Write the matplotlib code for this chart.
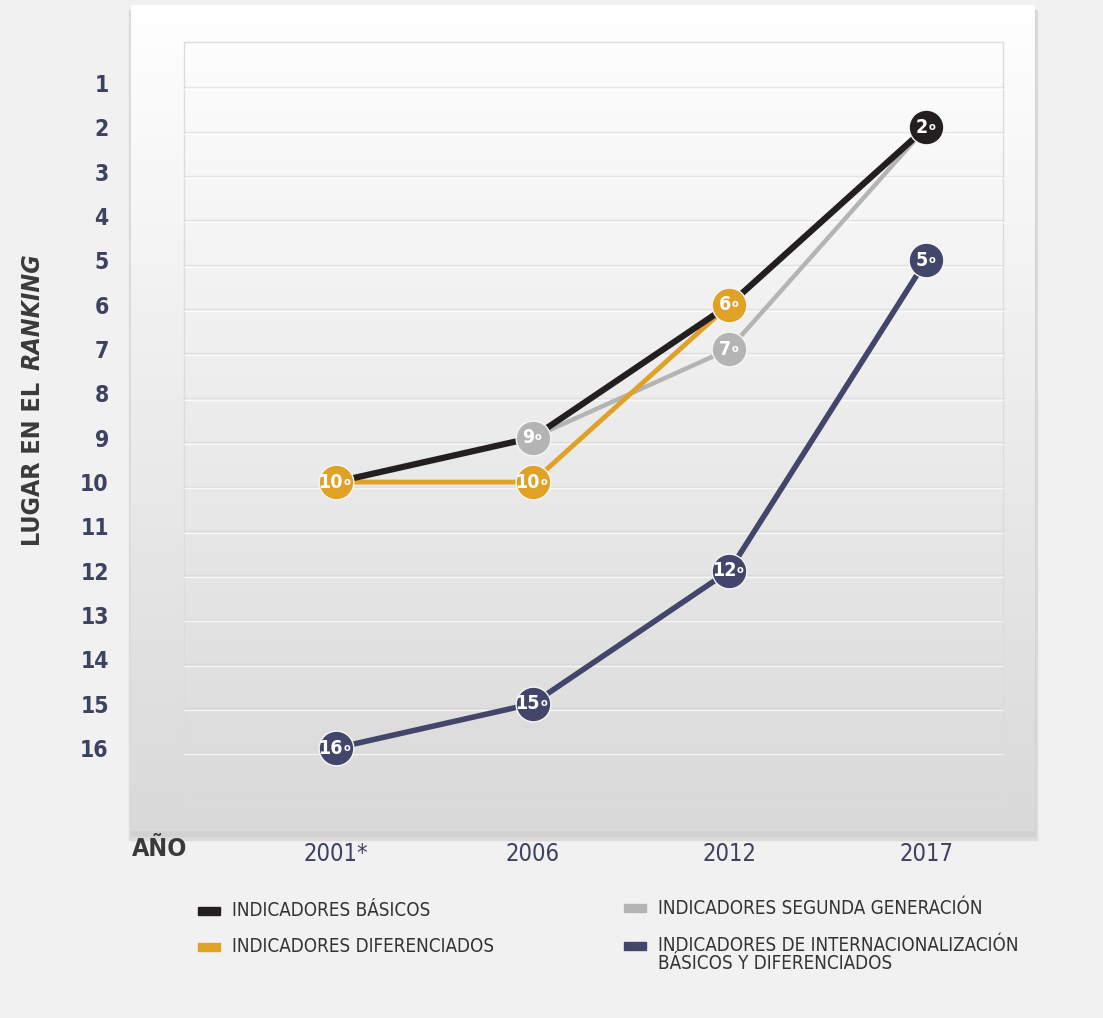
import numpy as np
import matplotlib
matplotlib.use("Agg")
from matplotlib import pyplot as plt
from matplotlib.colors import LinearSegmentedColormap
from matplotlib.patches import Rectangle

plt.rcParams['font.family'] = ['DejaVu Sans']
plt.rcParams['font.stretch'] = 'condensed'

years = ["2001*", "2006", "2012", "2017"]
ranks = list(range(1, 17))

basicos = [10, 9, 6, 2]
segunda = [10, 9, 7, 2]
diferenciados = [10, 10, 6, 2]
internacional = [16, 15, 12, 5]

names = ["INDICADORES BÁSICOS",
         "INDICADORES DIFERENCIADOS",
         "INDICADORES SEGUNDA GENERACIÓN",
         "INDICADORES DE INTERNACIONALIZACIÓN\nBÁSICOS Y DIFERENCIADOS"]

W, H = 1103, 1018
BLACK = "#231f20"
ORANGE = "#dfa227"
GREY = "#b4b4b4"
NAVY = "#41466a"
TEXT = "#3a3a3a"


def fx(px):
    return px / W


def fy(py):
    return 1 - py / H


fig = plt.figure(figsize=(W / 100, H / 100), dpi=100)
fig.patch.set_facecolor("#f1f1f1")

# panel shadow (mostly under the bottom edge)
fig.patches.append(Rectangle((fx(129), fy(840)), fx(908), 830 / H,
                             transform=fig.transFigure, color="#dcdcdc", zorder=-5))
fig.patches.append(Rectangle((fx(131), fy(836)), fx(904), 826 / H,
                             transform=fig.transFigure, color="#d2d2d2", zorder=-4))

ax = fig.add_axes([fx(131), fy(831), fx(904), 826 / H])
ax.set_zorder(1)
cmap = LinearSegmentedColormap.from_list("bg", ["#ffffff", "#ececec", "#d9d9d9"])
ax.imshow(np.linspace(0, 1, 256).reshape(-1, 1), extent=[0, 1, 0, 1],
          transform=ax.transAxes, cmap=cmap, aspect="auto", zorder=0)

x = np.arange(len(years))
ax.set_xlim(-1.04, 3.553)
ax.set_ylim(17.87, -0.76)
ax.set_autoscale_on(False)

# inner frame and grid
ax.add_patch(Rectangle((0.0586, 0.036), 0.906, 0.919, transform=ax.transAxes,
                       fill=False, edgecolor="#dcdcdc", lw=1, zorder=1))
for r in ranks:
    ax.axhline(r + 0.1, xmin=0.0586, xmax=0.9646, color="#d2d2d2", lw=1.0,
               alpha=0.5, zorder=1)
    ax.axhline(r + 0.14, xmin=0.0586, xmax=0.9646, color="#ffffff", lw=1.0,
               alpha=0.7, zorder=1)

# lines
ax.plot(x, segunda, color=GREY, lw=3.2, zorder=2, solid_capstyle="round")
ax.plot(x, diferenciados, color=ORANGE, lw=3.5, zorder=3, solid_capstyle="round")
ax.plot(x, basicos, color=BLACK, lw=4.5, zorder=4, solid_capstyle="round")
ax.plot(x, internacional, color=NAVY, lw=4, zorder=3, solid_capstyle="round")

# markers with ordinal labels (only the visible ones)
shown = [
    (basicos, BLACK, [False, False, False, True]),
    (segunda, GREY, [False, True, True, False]),
    (diferenciados, ORANGE, [True, True, True, False]),
    (internacional, NAVY, [True, True, True, True]),
]
for vals, col, mask in shown:
    for i, (v, m) in enumerate(zip(vals, mask)):
        if not m:
            continue
        ax.plot(i, v, "o", ms=25, color=col, mec="#f6f6f6", mew=1.0, zorder=6)
        base = 1.5 + (len(str(v)) - 1) * 3.8
        ax.annotate(str(v), (i, v), xytext=(base, 0), textcoords="offset points",
                    ha="right", va="center", color="white", fontsize=14,
                    fontweight="bold", zorder=7)
        ax.annotate("o", (i, v), xytext=(base + 0.3, 0.3),
                    textcoords="offset points", ha="left", va="center",
                    color="white", fontsize=8, fontweight="bold", zorder=7)

for s in ax.spines.values():
    s.set_visible(False)
ax.set_yticks(ranks)
ax.set_yticklabels([str(r) for r in ranks], fontsize=16.5, color="#3d4260",
                   fontweight="semibold")
ax.set_xticks(x)
ax.set_xticklabels(years, fontsize=17, color="#3d4260")
ax.tick_params(axis="both", length=0)
ax.tick_params(axis="y", pad=16)
ax.tick_params(axis="x", pad=8)

# axis titles
fig.text(fx(160), fy(849), "AÑO", ha="center", va="center", fontsize=18,
         fontweight="bold", color=TEXT)
fig.text(fx(33), fy(546), "LUGAR EN EL", rotation=90, ha="center", va="bottom",
         fontsize=18, fontweight="bold", color=TEXT)
fig.text(fx(33), fy(253), "RANKING", rotation=90, ha="center", va="top",
         fontsize=18, fontweight="bold", style="italic", color=TEXT)

# legend
legend_items = [
    (names[0], BLACK, 198, 911),
    (names[1], ORANGE, 198, 947),
    (names[2], GREY, 624, 908),
    (names[3], NAVY, 624, 946),
]
for label, col, lx, ly in legend_items:
    fig.patches.append(Rectangle((fx(lx), fy(ly + 4)), fx(22), 8 / H,
                                 transform=fig.transFigure, color=col))
    two = "\n" in label
    fig.text(fx(lx + 34), fy(ly - 10 if two else ly), label, ha="left",
             va="top" if two else "center", fontsize=13.5, color="#333333",
             linespacing=0.95)

fig.savefig("out.png", dpi=100, facecolor=fig.get_facecolor())
